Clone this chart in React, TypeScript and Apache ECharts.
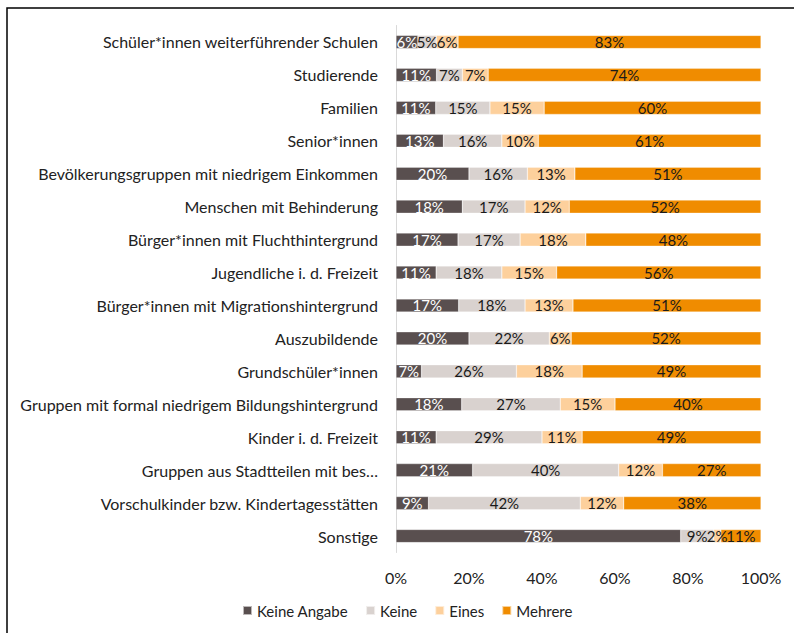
import React, { useEffect, useRef } from "react";
import * as echarts from "echarts";

const categories = [
  "Schüler*innen weiterführender Schulen",
  "Studierende",
  "Familien",
  "Senior*innen",
  "Bevölkerungsgruppen mit niedrigem Einkommen",
  "Menschen mit Behinderung",
  "Bürger*innen mit Fluchthintergrund",
  "Jugendliche i. d. Freizeit",
  "Bürger*innen mit Migrationshintergrund",
  "Auszubildende",
  "Grundschüler*innen",
  "Gruppen mit formal niedrigem Bildungshintergrund",
  "Kinder i. d. Freizeit",
  "Gruppen aus Stadtteilen mit bes…",
  "Vorschulkinder bzw. Kindertagesstätten",
  "Sonstige",
];

const keineAngabe = [6, 11, 11, 13, 20, 18, 17, 11, 17, 20, 7, 18, 11, 21, 9, 78];
const keine = [5, 7, 15, 16, 16, 17, 17, 18, 18, 22, 26, 27, 29, 40, 42, 9];
const eines = [6, 7, 15, 10, 13, 12, 18, 15, 13, 6, 18, 15, 11, 12, 12, 2];
const mehrere = [83, 74, 60, 61, 51, 52, 48, 56, 51, 52, 49, 40, 49, 27, 38, 11];

const seriesNames = ["Keine Angabe", "Keine", "Eines", "Mehrere"];
const seriesValues = [keineAngabe, keine, eines, mehrere];
const colors = ["#594f4f", "#d9d2cf", "#fdd09c", "#f08c00"];
const labelColors = ["#ffffff", "#1a1a1a", "#1a1a1a", "#1a1a1a"];
const xTicks = [0, 20, 40, 60, 80, 100];

const FONT = "Lato, 'Open Sans', sans-serif";

export default function App() {
  const ref = useRef<HTMLDivElement>(null);
  useEffect(() => {
    if (!ref.current) return;
    const chart = echarts.init(ref.current, undefined, { renderer: "svg" });
    const totals = categories.map((_, i) =>
      seriesValues.reduce((s, arr) => s + arr[i], 0)
    );
    const option: any = {
      animation: false,
      textStyle: { fontFamily: FONT },
      graphic: [
        {
          type: "rect",
          shape: { x: 7, y: 8, width: 900, height: 800 },
          style: { fill: "none", stroke: "#000", lineWidth: 1.5 },
          silent: true,
        },
      ],
      legend: {
        left: 237,
        top: 598,
        itemWidth: 9,
        itemHeight: 9,
        itemGap: 17,
        icon: "rect",
        textStyle: { fontFamily: FONT, fontSize: 15, color: "#222" },
        data: seriesNames,
      },
      grid: { left: 396, right: 33, top: 25.5, bottom: 80.5, containLabel: false },
      xAxis: {
        type: "value",
        min: xTicks[0],
        max: xTicks[xTicks.length - 1],
        interval: 20,
        axisLine: { show: false },
        axisTick: { show: false },
        splitLine: { show: false },
        axisLabel: {
          formatter: "{value}%",
          margin: 17,
          fontFamily: FONT,
          fontSize: 16,
          color: "#222",
        },
      },
      yAxis: {
        type: "category",
        inverse: true,
        data: categories,
        axisLine: { show: true, lineStyle: { color: "#d9d9d9", width: 1 } },
        axisTick: { show: false },
        axisLabel: { margin: 18, fontFamily: FONT, fontSize: 16, color: "#222" },
      },
      series: seriesNames.map((name, si) => ({
        name,
        type: "bar",
        stack: "total",
        barWidth: "40%",
        itemStyle: { color: colors[si], borderColor: "rgba(255,255,255,0.6)", borderWidth: 0.5 },
        label: {
          show: true,
          position: "inside",
          fontFamily: FONT,
          fontSize: 15,
          color: labelColors[si],
          formatter: (p: any) => `${p.data.raw}%`,
        },
        data: seriesValues[si].map((v, i) => ({ value: (v / totals[i]) * 100, raw: v })),
      })),
    };
    chart.setOption(option);
    return () => chart.dispose();
  }, []);
  return (
    <div
      ref={ref}
      style={{ position: "absolute", left: 0, top: 0, width: 794, height: 633 }}
    />
  );
}
